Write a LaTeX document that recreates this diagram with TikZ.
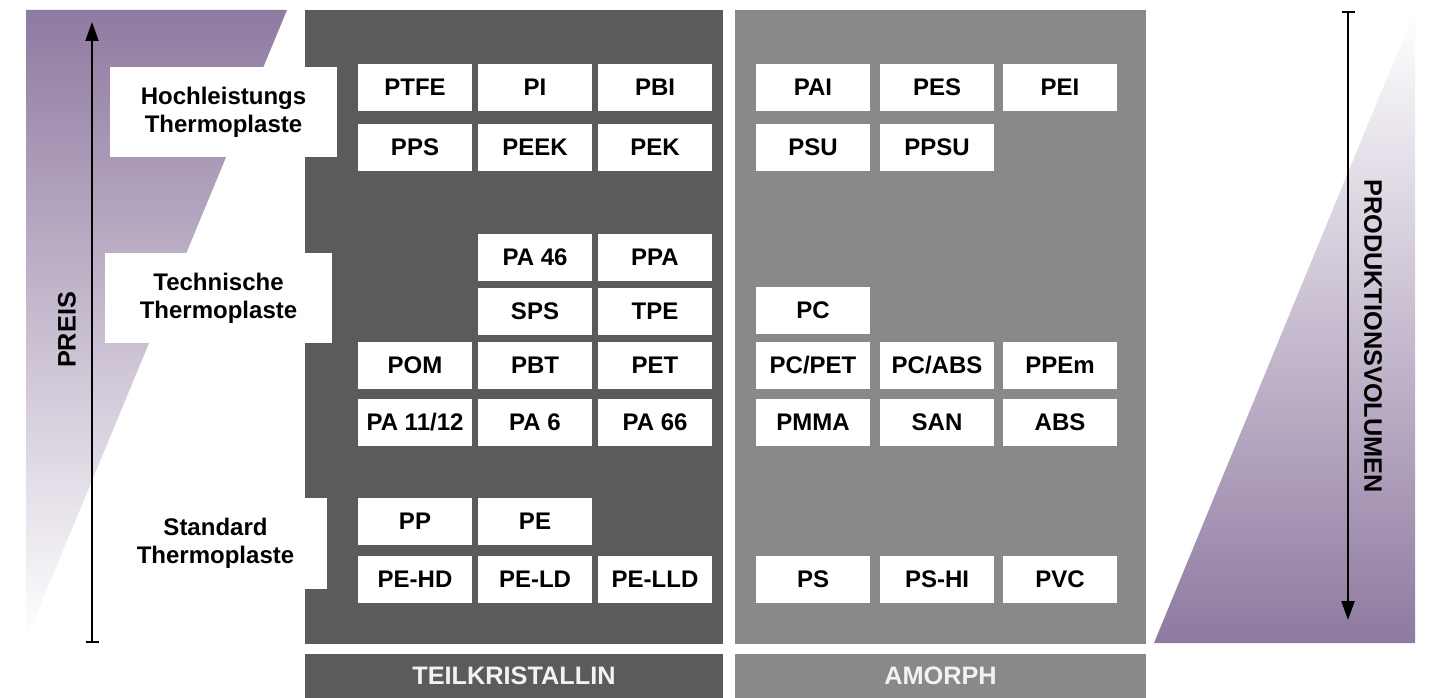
\documentclass[tikz,border=0pt]{standalone}
\usepackage{fontspec}
\setmainfont{Liberation Sans}
\usetikzlibrary{arrows.meta}
\definecolor{purp}{RGB}{143,122,160}
\definecolor{darkpanel}{RGB}{91,91,93}
\definecolor{lightpanel}{RGB}{136,137,139}
\definecolor{bartext}{RGB}{242,242,242}
\tikzset{
  cell/.style={fill=white, minimum width=114pt, minimum height=47pt, inner sep=0pt,
    font=\bfseries\fontsize{24}{28}\selectfont, text=black},
  grouplabel/.style={fill=white, inner sep=0pt, align=center,
    font=\bfseries\fontsize{24}{28}\selectfont, text=black},
  axislabel/.style={font=\bfseries\fontsize{25.3}{28}\selectfont, text=black, inner sep=0pt},
  bartitle/.style={font=\bfseries\fontsize{25.3}{28}\selectfont, text=bartext, inner sep=0pt},
  axisarrow/.style={line width=2.3pt, black},
}
\begin{document}
\begin{tikzpicture}[x=1pt,y=-1pt]
\useasboundingbox (0,0) rectangle (1429,698);
% gradient wedges
\shade[top color=purp, bottom color=white] (26,10) -- (287,10) -- (26,640) -- cycle;
\shade[top color=white, bottom color=purp] (1415,10) -- (1415,643) -- (1154,643) -- cycle;
% panels
\fill[darkpanel] (305,10) rectangle (723,644);
\fill[lightpanel] (735,10) rectangle (1146,644);
\node[fill=darkpanel, minimum width=418pt, minimum height=44pt, inner sep=0pt] (barL) at (514,676) {};
\node[fill=lightpanel, minimum width=411pt, minimum height=44pt, inner sep=0pt] (barR) at (940.5,676) {};
\node[bartitle] (tk) at (barL) {TEILKRISTALLIN};
\node[bartitle] (am) at (barR) {AMORPH};
% group labels
\node[grouplabel, minimum width=227pt, minimum height=90pt] (hl) at (223.5,112) {Hochleistungs\\Thermoplaste};
\node[grouplabel, minimum width=227pt, minimum height=90pt] (tt) at (218.5,298) {Technische\\Thermoplaste};
\node[grouplabel, minimum width=223pt, minimum height=91pt] (st) at (215.5,543.5) {Standard\\Thermoplaste};
% teilkristallin cells
\node[cell] (ptfe) at (415,87.5) {PTFE};
\node[cell] (pi) at (535,87.5) {PI};
\node[cell] (pbi) at (655,87.5) {PBI};
\node[cell] (pps) at (415,147.5) {PPS};
\node[cell] (peek) at (535,147.5) {PEEK};
\node[cell] (pek) at (655,147.5) {PEK};
\node[cell] (pa46) at (535,257.5) {PA 46};
\node[cell] (ppa) at (655,257.5) {PPA};
\node[cell] (sps) at (535,311) {SPS};
\node[cell] (tpe) at (655,311) {TPE};
\node[cell] (pom) at (415,365.5) {POM};
\node[cell] (pbt) at (535,365.5) {PBT};
\node[cell] (pet) at (655,365.5) {PET};
\node[cell] (pa1112) at (415,422.5) {PA 11/12};
\node[cell] (pa6) at (535,422.5) {PA 6};
\node[cell] (pa66) at (655,422.5) {PA 66};
\node[cell] (pp) at (415,521.5) {PP};
\node[cell] (pe) at (535,521.5) {PE};
\node[cell] (pehd) at (415,579.5) {PE-HD};
\node[cell] (peld) at (535,579.5) {PE-LD};
\node[cell] (pelld) at (655,579.5) {PE-LLD};
% amorph cells
\node[cell] (pai) at (813,87.5) {PAI};
\node[cell] (pes) at (937,87.5) {PES};
\node[cell] (pei) at (1060,87.5) {PEI};
\node[cell] (psu) at (813,147.5) {PSU};
\node[cell] (ppsu) at (937,147.5) {PPSU};
\node[cell] (pc) at (813,310) {PC};
\node[cell] (pcpet) at (813,365.5) {PC/PET};
\node[cell] (pcabs) at (937,365.5) {PC/ABS};
\node[cell] (ppem) at (1060,365.5) {PPEm};
\node[cell] (pmma) at (813,422.5) {PMMA};
\node[cell] (san) at (937,422.5) {SAN};
\node[cell] (abs) at (1060,422.5) {ABS};
\node[cell] (ps) at (813,579.5) {PS};
\node[cell] (pshi) at (937,579.5) {PS-HI};
\node[cell] (pvc) at (1060,579.5) {PVC};
% axes
\coordinate (preisLow) at (92,643);
\coordinate (preisHigh) at (92,22);
\draw[axisarrow, arrows={Bar[width=13pt]-Triangle[length=19pt,width=13pt]}] (preisLow) -- (preisHigh);
\coordinate (volTop) at (1348,11);
\coordinate (volBot) at (1348,620);
\draw[axisarrow, arrows={Bar[width=13pt]-Triangle[length=19pt,width=13pt]}] (volTop) -- (volBot);
\node[axislabel, rotate=90] (preis) at (67,330) {PREIS};
\node[axislabel, rotate=-90] (vol) at (1373,336) {PRODUKTIONSVOLUMEN};
\end{tikzpicture}
\end{document}
